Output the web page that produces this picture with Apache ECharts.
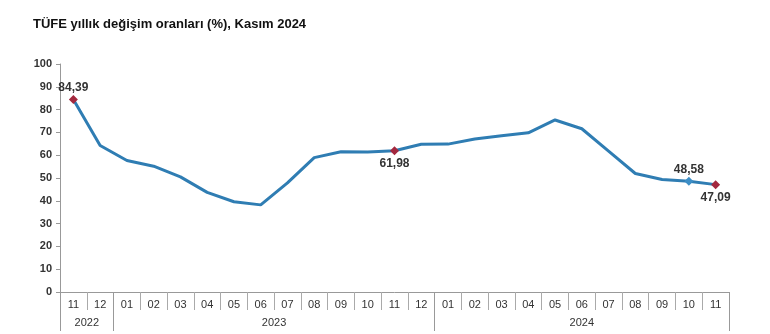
<!DOCTYPE html>
<html>
<head>
<meta charset="utf-8">
<script src="https://cdn.jsdelivr.net/npm/echarts@6/dist/echarts.min.js"></script>
<style>html,body{margin:0;padding:0;background:#fff}#c{width:770px;height:334px}</style>
</head>
<body>
<div id="c"></div>
<script>
var months = ['11','12','01','02','03','04','05','06','07','08','09','10','11','12','01','02','03','04','05','06','07','08','09','10','11'];
var values = [84.39,64.27,57.68,55.18,50.51,43.68,39.59,38.21,47.83,58.94,61.53,61.36,61.98,64.77,64.86,67.07,68.50,69.80,75.45,71.60,61.78,51.97,49.38,48.58,47.09];
var yearLabels = ['2022','2023','2024'];
var yearCounts = [2,12,11];
var yTicks = [0,10,20,30,40,50,60,70,80,90,100];
var labelled = {0:'top',12:'bottom',23:'top',24:'bottom'};
var markerColors = {0:'#a3283e',12:'#a3283e',23:'#3d8ec6',24:'#a3283e'};

var bounds = [0], centers = [], acc = 0;
yearCounts.forEach(function(n){ centers.push(acc + n/2); acc += n; bounds.push(acc); });

var seriesData = values.map(function(v,i){
  var d = {value:v};
  if (markerColors[i]) {
    d.symbol = 'diamond'; d.symbolSize = 9;
    d.itemStyle = {color: markerColors[i]};
    d.label = {show:true, position: labelled[i], distance: labelled[i]==='top' ? 1 : 3,
      formatter: v.toFixed(2).replace('.',','),
      fontFamily:'Liberation Sans, Arial', fontSize:12, fontWeight:'bold', color:'#333'};
  } else {
    d.symbol = 'none';
  }
  return d;
});

var chart = echarts.init(document.getElementById('c'));
chart.setOption({
  animation:false,
  title:{text:'TÜFE yıllık değişim oranları (%), Kasım 2024', left:33, top:18, padding:0,
    textStyle:{fontFamily:'Liberation Sans, Arial', fontSize:13, fontWeight:'bold', color:'#111'}},
  grid:{left:60, right:41, top:64, bottom:42},
  xAxis:[{
    type:'category', data:months, boundaryGap:true,
    axisLine:{lineStyle:{color:'#999'}},
    axisTick:{show:true, length:18, inside:false, lineStyle:{color:'#aaa'}},
    axisLabel:{margin:7, fontFamily:'Liberation Sans, Arial', fontSize:11, color:'#333', interval:0}
  },{
    type:'value', position:'bottom', min:0, max:25, gridIndex:0,
    axisLine:{show:false},
    splitLine:{show:false},
    axisTick:{show:true, length:39, lineStyle:{color:'#999'}, customValues: bounds},
    axisLabel:{margin:25, fontFamily:'Liberation Sans, Arial', fontSize:11, color:'#333',
      customValues: centers,
      formatter:function(v){ var i = centers.indexOf(v); return i>=0 ? yearLabels[i] : ''; }}
  }],
  yAxis:{
    type:'value', min:0, max:100, interval:10,
    axisLine:{show:true, lineStyle:{color:'#999'}},
    axisTick:{show:true, length:4, lineStyle:{color:'#999'}},
    splitLine:{show:false},
    axisLabel:{margin:8, fontFamily:'Liberation Sans, Arial', fontSize:11, fontWeight:'bold', color:'#333',
      customValues: yTicks}
  },
  series:[{
    type:'line', xAxisIndex:0, data:seriesData,
    lineStyle:{color:'#2f7db3', width:3},
    itemStyle:{color:'#2f7db3'},
    showSymbol:true
  }]
});
</script>
</body>
</html>
